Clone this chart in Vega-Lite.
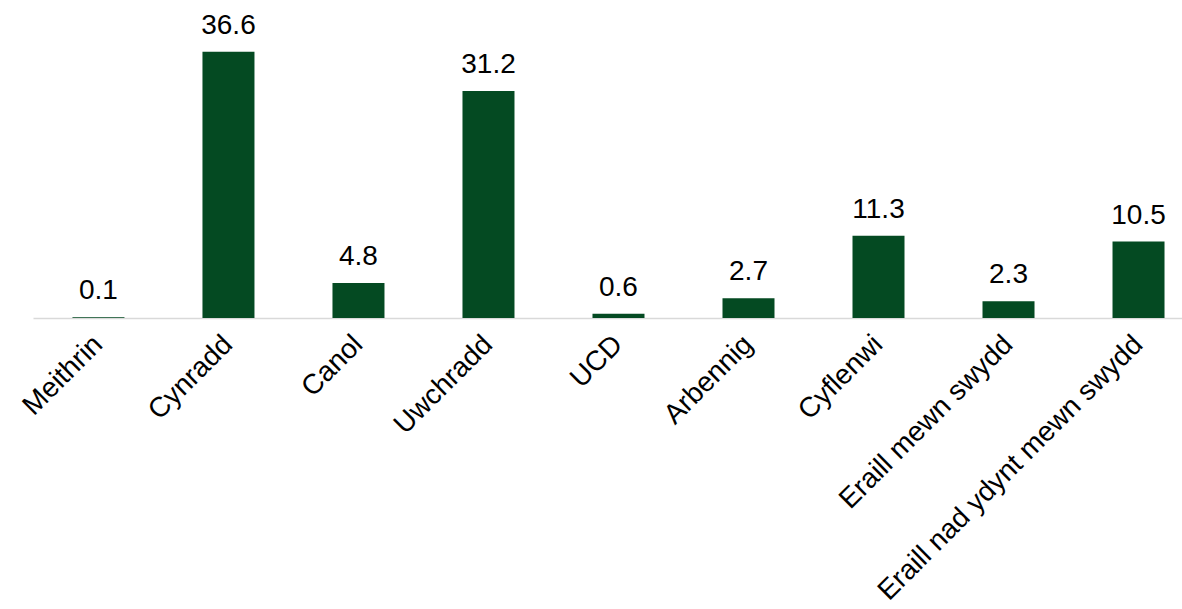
{
  "$schema": "https://vega.github.io/schema/vega-lite/v6.json",
  "autosize": "none",
  "width": 1149,
  "height": 291,
  "padding": {"left": 33, "top": 27, "right": 0, "bottom": 291},
  "background": "white",
  "data": {
    "values": [
      {"category": "Meithrin", "value": 0.1},
      {"category": "Cynradd", "value": 36.6},
      {"category": "Canol", "value": 4.8},
      {"category": "Uwchradd", "value": 31.2},
      {"category": "UCD", "value": 0.6},
      {"category": "Arbennig", "value": 2.7},
      {"category": "Cyflenwi", "value": 11.3},
      {"category": "Eraill mewn swydd", "value": 2.3},
      {"category": "Eraill nad ydynt mewn swydd", "value": 10.5}
    ]
  },
  "encoding": {
    "x": {
      "field": "category",
      "type": "nominal",
      "sort": null,
      "scale": {"paddingInner": 0.6, "paddingOuter": 0.219, "align": 0.693},
      "axis": {
        "title": null,
        "labelAngle": -45,
        "labelAlign": "right",
        "labelBaseline": "middle",
        "labelFont": "Liberation Sans",
        "labelFontSize": 28,
        "labelColor": "#000000",
        "labelPadding": 22,
        "ticks": false,
        "domainColor": "#d9d9d9",
        "domainWidth": 1.5,
        "labelLimit": 0
      }
    },
    "y": {
      "field": "value",
      "type": "quantitative",
      "scale": {"domain": [0, 40], "nice": false},
      "axis": null
    }
  },
  "layer": [
    {"mark": {"type": "bar", "color": "#044a22"}},
    {
      "mark": {
        "type": "text",
        "baseline": "alphabetic",
        "dy": -18,
        "font": "Liberation Sans",
        "fontSize": 28,
        "color": "#000000"
      },
      "encoding": {"text": {"field": "value", "type": "quantitative", "format": ".1f"}}
    }
  ],
  "config": {"view": {"stroke": null}}
}
